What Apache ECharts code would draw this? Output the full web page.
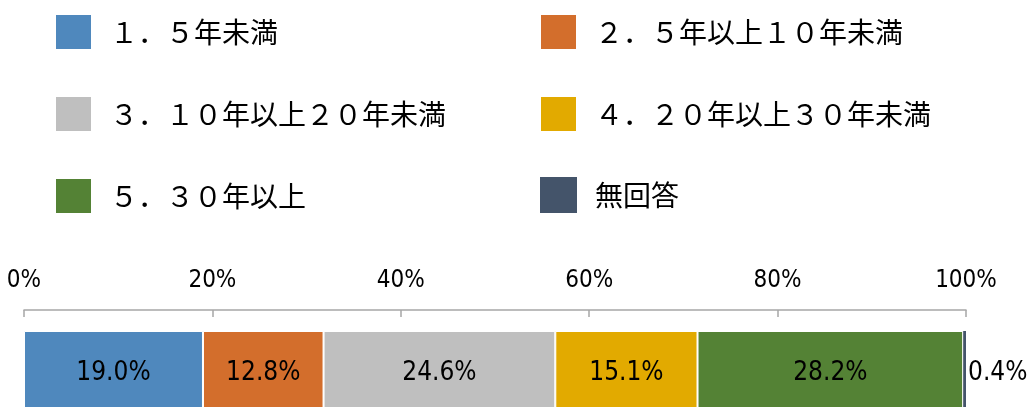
<!DOCTYPE html>
<html>
<head>
<meta charset="utf-8">
<script src="https://cdn.jsdelivr.net/npm/echarts@6/dist/echarts.min.js"></script>
<style>
  html, body { margin: 0; padding: 0; background: #fff; }
  #chart { width: 1028px; height: 407px; }
</style>
</head>
<body>
<div id="chart"></div>
<script>
// 勤続年数の構成比
var seriesNames = [
  '１．５年未満',
  '２．５年以上１０年未満',
  '３．１０年以上２０年未満',
  '４．２０年以上３０年未満',
  '５．３０年以上',
  '無回答'
];
var seriesValues = [19.0, 12.8, 24.6, 15.1, 28.2, 0.4];
var seriesColors = ['#4f88bd', '#d36e2c', '#bfbfbf', '#e2aa00', '#548235', '#44546a'];
var tickLabels = ['0%', '20%', '40%', '60%', '80%', '100%'];

var labelFont = "'Liberation Sans Narrow', 'DejaVu Sans Condensed', 'Noto Sans CJK JP', sans-serif";
var legendFont = "'Noto Sans CJK JP', sans-serif";

var series = [];
for (var i = 0; i < seriesNames.length; i++) {
  var last = i === seriesNames.length - 1;
  series.push({
    name: seriesNames[i],
    type: 'bar',
    stack: 'total',
    barWidth: 98,
    data: [seriesValues[i]],
    itemStyle: {
      color: seriesColors[i],
      borderColor: '#fff',
      borderWidth: last ? 0 : 1
    },
    label: {
      show: true,
      position: last ? 'right' : 'inside',
      distance: 2,
      color: '#000',
      fontSize: 26,
      fontFamily: labelFont,
      offset: [0, -7],
      formatter: function (p) {
        return p.value.toFixed(1) + '%';
      }
    }
  });
}

var legendBase = {
  orient: 'vertical',
  top: 8,
  itemWidth: 37,
  itemHeight: 36,
  itemGap: 44,
  icon: 'rect',
  selectedMode: false,
  textStyle: {
    fontSize: 28,
    color: '#000',
    fontFamily: legendFont,
    padding: [0, 0, 0, 13]
  }
};

var option = {
  backgroundColor: '#fff',
  animation: false,
  legend: [
    Object.assign({}, legendBase, { left: 49, data: [seriesNames[0], seriesNames[2], seriesNames[4]] }),
    Object.assign({}, legendBase, { left: 534, data: [seriesNames[1], seriesNames[3], seriesNames[5]] })
  ],
  grid: {
    left: 24,
    right: 62,
    top: 310,
    height: 140,
    outerBoundsMode: 'none'
  },
  xAxis: {
    type: 'value',
    position: 'top',
    min: 0,
    max: 100,
    interval: 20,
    axisLine: { show: true, lineStyle: { color: '#a6a6a6', width: 1.5 } },
    axisTick: { show: true, inside: true, length: 7, lineStyle: { color: '#a6a6a6', width: 1.5 } },
    splitLine: { show: false },
    axisLabel: {
      margin: 17,
      color: '#000',
      fontSize: 24,
      fontFamily: labelFont,
      formatter: function (v) {
        return tickLabels[Math.round(v / 20)];
      }
    }
  },
  yAxis: {
    type: 'category',
    data: [''],
    show: false
  },
  series: series
};

var chart = echarts.init(document.getElementById('chart'));
chart.setOption(option);
</script>
</body>
</html>
